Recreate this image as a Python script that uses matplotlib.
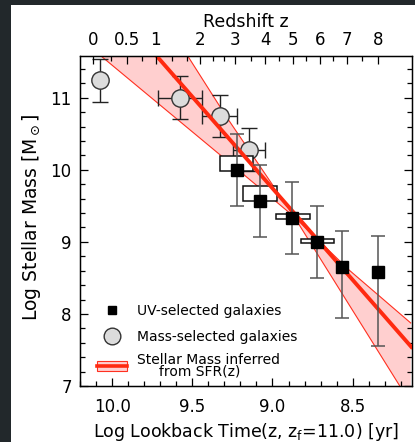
import numpy as np
import matplotlib
matplotlib.use("Agg")
import matplotlib.pyplot as plt
from matplotlib.patches import Rectangle, Patch
from matplotlib.lines import Line2D

plt.rcParams['font.family'] = ['DejaVu Sans']
plt.rcParams['mathtext.fontset'] = 'dejavusans'
plt.rcParams['mathtext.default'] = 'regular'

# UV-selected galaxies (log lookback time, log M*, errors)
uv_x = [9.22, 9.08, 8.877, 8.722, 8.566, 8.343]
uv_y = [10.0, 9.57, 9.333, 9.0, 8.65, 8.58]
uv_yerr_lo = [0.5, 0.5, 0.5, 0.5, 0.7, 1.02]
uv_yerr_hi = [0.5, 0.5, 0.5, 0.5, 0.5, 0.5]

# mass-selected galaxies
ms_x = [10.076, 9.579, 9.33, 9.144]
ms_y = [11.24, 11.0, 10.75, 10.28]
ms_yerr = [0.30, 0.30, 0.29, 0.30]
ms_xerr = [0.0, 0.137, 0.108, 0.10]

# open boxes: x0, x1, y0, y1
box_x0 = [9.324, 9.181, 8.976, 8.821]
box_x1 = [9.119, 8.970, 8.765, 8.616]
box_y0 = [9.986, 9.569, 9.319, 8.986]
box_y1 = [10.19, 9.778, 9.389, 9.042]

# SFR-inferred mass: central line and band edges
sfr_x = [9.722, 8.134]
sfr_y = [11.58, 7.542]
edge_a_x = [10.116, 10.063, 9.312, 8.865, 8.523, 8.138]
edge_a_y = [11.667, 11.569, 10.181, 9.35, 8.611, 7.875]
edge_b_x = [9.554, 9.529, 9.287, 8.865, 8.206, 8.138]
edge_b_y = [11.667, 11.583, 10.736, 9.35, 7.0, 6.75]

z_labels = [0, 0.5, 1, 2, 3, 4, 5, 6, 7, 8]
z_minor = [0.25, 0.75, 1.333, 1.667, 2.333, 2.667, 3.5, 4.5, 5.5, 6.5, 7.5]


def age_gyr(z, h0=70.0, om=0.3):
    ol = 1.0 - om
    th = 977.8 / h0
    return th * 2.0 / (3.0 * np.sqrt(ol)) * np.arcsinh(np.sqrt(ol / om) * (1.0 + np.asarray(z, float)) ** -1.5)


def log_lookback(z, zf=11.0):
    return np.log10((age_gyr(z) - age_gyr(zf)) * 1e9)


fig = plt.figure(figsize=(4.15, 4.42), dpi=100, facecolor='#22282b')
fig.patches.append(Rectangle((11 / 415, 0), 1, 1 - 5 / 442, transform=fig.transFigure,
                             facecolor='white', edgecolor='none', zorder=-1))
ax = fig.add_axes([80 / 415, 1 - 386 / 442, 332 / 415, 330 / 442])

xlim = (10.2, 8.13)
ylim = (7.0, 11.58)

# band
poly_x = edge_a_x + edge_b_x[::-1]
poly_y = edge_a_y + edge_b_y[::-1]
ax.fill(poly_x, poly_y, facecolor='#ffcfcf', edgecolor='none', zorder=1)
ax.plot(edge_a_x, edge_a_y, color='#ff3020', lw=0.8, zorder=2)
ax.plot(edge_b_x, edge_b_y, color='#ff3020', lw=0.8, zorder=2)

# circles
ax.errorbar(ms_x, ms_y, yerr=ms_yerr, xerr=ms_xerr, fmt='o', ms=12.5, mfc='#dcdcdc',
            mec='#333333', mew=1.0, ecolor='#222222', elinewidth=1.0, capsize=6, capthick=1.0,
            zorder=3)

# boxes
for x0, x1, y0, y1 in zip(box_x0, box_x1, box_y0, box_y1):
    ax.add_patch(Rectangle((x0, y0), x1 - x0, y1 - y0, facecolor='white',
                           edgecolor='#111111', lw=1.1, zorder=4))

ax.plot(sfr_x, sfr_y, color='#ff2a10', lw=2.8, zorder=5)

# squares
ax.errorbar(uv_x, uv_y, yerr=[uv_yerr_lo, uv_yerr_hi], fmt='s', ms=8.5, mfc='black',
            mec='black', ecolor='#555555', elinewidth=1.1, capsize=4.8, capthick=1.1, zorder=6)

ax.set_xlim(xlim)
ax.set_ylim(ylim)
ax.set_xticks([10.0, 9.5, 9.0, 8.5])
ax.set_xticklabels(['10.0', '9.5', '9.0', '8.5'])
ax.set_xticks(np.arange(8.2, 10.25, 0.1), minor=True)
ax.set_yticks([7, 8, 9, 10, 11])
ax.set_yticks(np.arange(7.0, 11.6, 0.2), minor=True)
ax.tick_params(which='both', direction='in', right=True, labelsize=12, width=0.9)
ax.tick_params(which='major', length=6)
ax.tick_params(which='minor', length=3.5)
ax.tick_params(axis='x', pad=9)
ax.tick_params(axis='y', pad=6)
for s in ax.spines.values():
    s.set_linewidth(1.0)

ax.set_xlabel(r'Log Lookback Time(z, z$_{f}$=11.0) [yr]', fontsize=12.5, labelpad=3)
ax.set_ylabel(r'Log Stellar Mass [M$_\odot$]', fontsize=13.5)
ax.yaxis.set_label_coords(-0.112, 0.51)

top = ax.twiny()
top.set_xlim(xlim)
top.set_xticks(log_lookback(z_labels))
top.set_xticklabels([str(z) for z in z_labels])
top.set_xticks(log_lookback(z_minor), minor=True)
top.tick_params(which='both', direction='in', labelsize=12, width=0.9, pad=5)
top.tick_params(which='major', length=6)
top.tick_params(which='minor', length=3.5)
top.set_xlabel('Redshift z', fontsize=12.5, labelpad=3)

# legend, in two pieces so the entries sit where they do in the original
leg_kw = dict(loc='center left', frameon=False, fontsize=10, handlelength=2.2,
              handletextpad=0.65, borderpad=0, borderaxespad=0)
pts_handles = [Line2D([], [], ls='none', marker='s', ms=6, mfc='black', mec='black'),
               Line2D([], [], ls='none', marker='o', ms=12, mfc='#dcdcdc', mec='#333333')]
leg1 = ax.legend(pts_handles, ['UV-selected galaxies', 'Mass-selected galaxies'],
                 bbox_to_anchor=(0.051, 0.189), labelspacing=0.85, **leg_kw)
ax.add_artist(leg1)
band_handle = (Patch(facecolor='#ffcfcf', edgecolor='#ff3020', lw=0.8),
               Line2D([], [], color='#ff2a10', lw=2.6))
leg2 = ax.legend([band_handle], ['Stellar Mass inferred\n     from SFR(z)'],
                 bbox_to_anchor=(0.051, 0.062), **leg_kw)
leg2.get_texts()[0].set_linespacing(0.8)

fig.savefig('out.png', dpi=100, facecolor=fig.get_facecolor())
